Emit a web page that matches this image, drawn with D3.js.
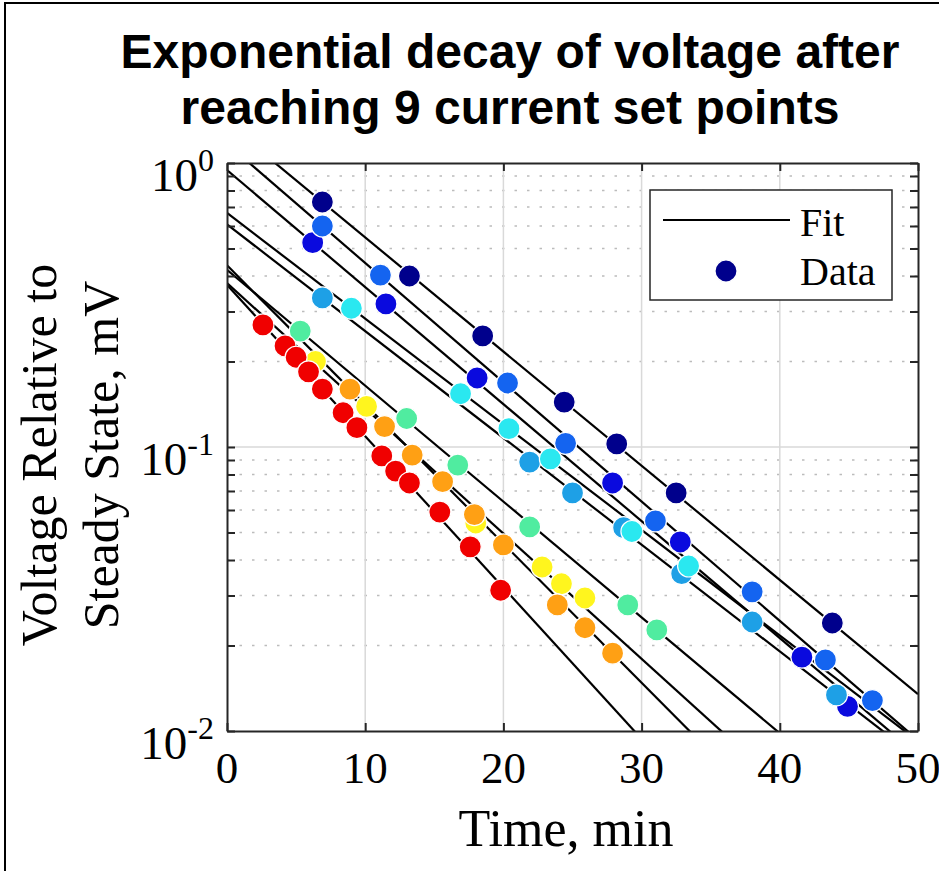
<!DOCTYPE html>
<html>
<head>
<meta charset="utf-8">
<script src="https://cdn.jsdelivr.net/npm/d3@7"></script>
<style>
  body { margin: 0; background: #fff; }
  text { font-family: "Liberation Serif", "Times New Roman", serif; fill: #000; }
</style>
</head>
<body>
<svg id="my_dataviz" width="939" height="871"></svg>
<script>
// one entry per current set point (dark blue -> red)
const seriesColors = ["#00008c", "#0a0ade", "#1464f0", "#1ea0e6", "#2ae8f0", "#50eca0", "#fff51e", "#ffa014", "#f00000"];

const times = [
  [6.9, 13.2, 18.5, 24.4, 28.2, 32.5, 43.8],
  [6.2, 11.5, 18.1, 27.9, 32.8, 41.6, 44.9],
  [6.9, 11.1, 20.3, 24.5, 31.0, 38.0, 43.3, 46.7],
  [6.9, 21.9, 25.0, 28.7, 32.9, 38.0, 44.1],
  [9.0, 16.9, 20.4, 23.4, 29.3, 33.4],
  [5.3, 13.0, 16.7, 21.9, 29.0, 31.1],
  [6.4, 10.1, 18.0, 22.8, 24.2, 25.9],
  [8.9, 11.4, 13.4, 15.6, 17.9, 20.0, 23.9, 25.9, 27.9],
  [2.6, 4.2, 5.0, 5.9, 6.9, 8.4, 9.4, 11.2, 12.2, 13.2, 15.4, 17.6, 19.8]
];

const volts = [
  [0.729, 0.40, 0.246, 0.144, 0.1025, 0.0689, 0.0240],
  [0.524, 0.319, 0.175, 0.0747, 0.0463, 0.0182, 0.0122],
  [0.600, 0.403, 0.168, 0.103, 0.0549, 0.0309, 0.0178, 0.0128],
  [0.335, 0.0885, 0.0689, 0.052, 0.0358, 0.0242, 0.0134],
  [0.308, 0.154, 0.116, 0.0908, 0.0504, 0.0381],
  [0.256, 0.126, 0.0864, 0.0523, 0.0278, 0.0227],
  [0.200, 0.139, 0.054, 0.0378, 0.033, 0.0294],
  [0.160, 0.118, 0.0937, 0.0755, 0.0578, 0.0452, 0.0278, 0.0231, 0.0188],
  [0.269, 0.227, 0.207, 0.184, 0.160, 0.132, 0.117, 0.093, 0.0823, 0.0747, 0.059, 0.0445, 0.0313]
];

// exponential fits: log10(V) = intercept + slope * t
const fitIntercept = [0.140, -0.025, 0.068, -0.216, -0.176, -0.376, -0.423, -0.360, -0.429];
const fitSlope = [-0.0402, -0.0412, -0.0420, -0.0376, -0.0372, -0.0408, -0.0441, -0.0490, -0.0533];

const xTicks = [0, 10, 20, 30, 40, 50];
const yTicks = [1, 0.1, 0.01];
const yTickExp = ["0", "-1", "-2"];
const yMinor = [0.02, 0.03, 0.04, 0.05, 0.06, 0.07, 0.08, 0.09, 0.2, 0.3, 0.4, 0.5, 0.6, 0.7, 0.8, 0.9];

const svg = d3.select("#my_dataviz");

const x = d3.scaleLinear().domain([0, 50]).range([227, 918]);
const y = d3.scaleLog().domain([0.01, 1]).range([731, 163]);

// outer frame
svg.append("rect")
  .attr("x", 5).attr("y", 3).attr("width", 960).attr("height", 900)
  .attr("fill", "none").attr("stroke", "#000").attr("stroke-width", 2);

// title
const titleLines = ["Exponential decay of voltage after", "reaching 9 current set points"];
svg.selectAll(".title")
  .data(titleLines)
  .join("text")
    .attr("class", "title")
    .attr("x", 510)
    .attr("y", (d, i) => 68 + i * 56)
    .attr("text-anchor", "middle")
    .style("font-family", "'Liberation Sans', Arial, sans-serif")
    .style("font-weight", "bold")
    .style("font-size", "48px")
    .text(d => d);

svg.append("clipPath").attr("id", "plotclip")
  .append("rect")
  .attr("x", 227).attr("y", 163).attr("width", 691).attr("height", 568);

// grid
const grid = svg.append("g");
grid.selectAll(".minor")
  .data(yMinor)
  .join("line")
    .attr("x1", 227).attr("x2", 918)
    .attr("y1", d => y(d)).attr("y2", d => y(d))
    .attr("stroke", "#bcbcbc").attr("stroke-width", 1.5)
    .attr("stroke-dasharray", "2.5,10");
grid.selectAll(".majx")
  .data([10, 20, 30, 40])
  .join("line")
    .attr("x1", d => x(d)).attr("x2", d => x(d))
    .attr("y1", 163).attr("y2", 731)
    .attr("stroke", "#d9d9d9").attr("stroke-width", 1.5);
grid.append("line")
  .attr("x1", 227).attr("x2", 918)
  .attr("y1", y(0.1)).attr("y2", y(0.1))
  .attr("stroke", "#d9d9d9").attr("stroke-width", 1.5);

// fit lines
const fitLine = d3.line()
  .x(d => x(d[0]))
  .y(d => y(d[1]));

svg.append("g")
  .attr("clip-path", "url(#plotclip)")
  .selectAll("path")
  .data(fitIntercept.map((a, i) => [0, 50].map(t => [t, Math.pow(10, a + fitSlope[i] * t)])))
  .join("path")
    .attr("d", fitLine)
    .attr("fill", "none")
    .attr("stroke", "#000")
    .attr("stroke-width", 2.2);

// data points, drawn series by series
const dots = svg.append("g");
times.forEach(function(ts, i) {
  dots.append("g")
    .selectAll("circle")
    .data(ts.map((t, j) => [t, volts[i][j]]))
    .join("circle")
      .attr("cx", d => x(d[0]))
      .attr("cy", d => y(d[1]))
      .attr("r", 11)
      .attr("fill", seriesColors[i])
      .attr("stroke", "#fff")
      .attr("stroke-width", 1.2);
});

// axes (ticks point inward, box on)
const axisColor = "#262626";
function styleAxis(g) {
  g.selectAll("path, line").attr("stroke", axisColor).attr("stroke-width", 2);
  g.selectAll("text").remove();
}
svg.append("g").attr("transform", "translate(0,731)")
  .call(d3.axisBottom(x).tickValues(xTicks).tickSizeInner(-8).tickSizeOuter(0))
  .call(styleAxis);
svg.append("g").attr("transform", "translate(0,163)")
  .call(d3.axisTop(x).tickValues(xTicks).tickSizeInner(-8).tickSizeOuter(0))
  .call(styleAxis);
svg.append("g").attr("transform", "translate(227,0)")
  .call(d3.axisLeft(y).tickValues(yTicks.concat(yMinor)).tickSizeInner(-8).tickSizeOuter(0))
  .call(styleAxis);
svg.append("g").attr("transform", "translate(918,0)")
  .call(d3.axisRight(y).tickValues(yTicks.concat(yMinor)).tickSizeInner(-8).tickSizeOuter(0))
  .call(styleAxis);

// tick labels
svg.append("g")
  .selectAll("text")
  .data(xTicks)
  .join("text")
    .attr("x", d => x(d))
    .attr("y", 783)
    .attr("text-anchor", "middle")
    .style("font-size", "45px")
    .text(d => d);

const yLab = svg.append("g")
  .selectAll("text")
  .data(yTicks)
  .join("text")
    .attr("x", 214)
    .attr("y", d => y(d) + 28)
    .attr("text-anchor", "end")
    .style("font-size", "47px");
yLab.append("tspan").text("10");
yLab.append("tspan")
  .attr("dy", -20)
  .style("font-size", "32px")
  .text((d, i) => yTickExp[i]);

// axis titles
svg.append("text")
  .attr("x", 566).attr("y", 846)
  .attr("text-anchor", "middle")
  .style("font-size", "52px")
  .text("Time, min");

svg.selectAll(".ylabel")
  .data(["Voltage Relative to", "Steady State, mV"])
  .join("text")
    .attr("class", "ylabel")
    .attr("transform", (d, i) => "translate(" + (56 + i * 62) + ",455) rotate(-90)")
    .attr("text-anchor", "middle")
    .style("font-size", "50px")
    .text(d => d);

// legend
const legend = svg.append("g");
legend.append("rect")
  .attr("x", 650).attr("y", 190).attr("width", 242).attr("height", 110)
  .attr("fill", "#fff").attr("stroke", axisColor).attr("stroke-width", 1.5);
legend.append("line")
  .attr("x1", 663).attr("x2", 790).attr("y1", 220).attr("y2", 220)
  .attr("stroke", "#000").attr("stroke-width", 2.2);
legend.append("circle")
  .attr("cx", 726).attr("cy", 271).attr("r", 11)
  .attr("fill", seriesColors[0]).attr("stroke", "#fff").attr("stroke-width", 1.2);
legend.selectAll("text")
  .data(["Fit", "Data"])
  .join("text")
    .attr("x", 800)
    .attr("y", (d, i) => 236 + i * 49)
    .style("font-size", "40px")
    .text(d => d);
</script>
</body>
</html>
